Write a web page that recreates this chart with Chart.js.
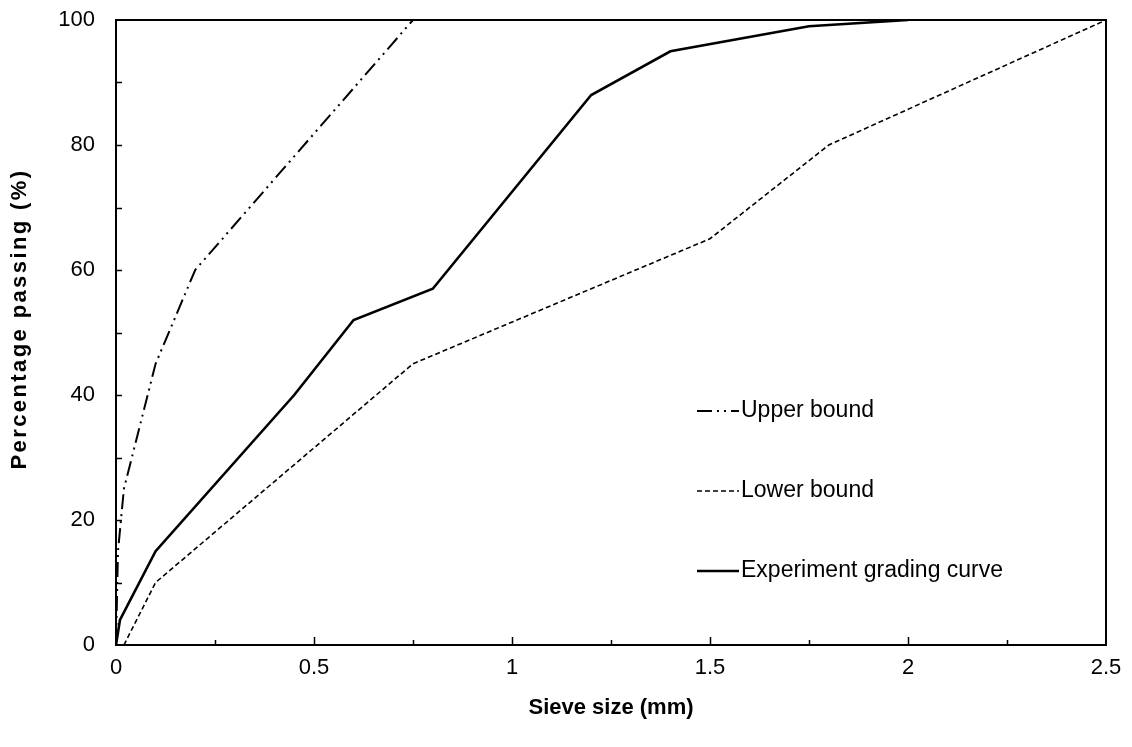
<!DOCTYPE html>
<html>
<head>
<meta charset="utf-8">
<script src="https://cdn.jsdelivr.net/npm/chart.js@4/dist/chart.umd.min.js"></script>
<style>
  html, body { margin: 0; padding: 0; background: #fff; }
  #wrap { width: 1132px; height: 747px; }
</style>
</head>
<body>
<div id="wrap"><canvas id="myChart"></canvas></div>
<script>
// sieve sizes (mm) and percentage passing
var upperX = [0, 0.005, 0.02, 0.1, 0.2, 0.75];
var upperY = [0, 15, 25, 45, 60, 100];

var lowerX = [0.02, 0.1, 0.75, 1.5, 1.8, 2.5];
var lowerY = [0, 10, 45, 65, 80, 100];

var expX = [0, 0.01, 0.1, 0.45, 0.6, 0.8, 1.2, 1.4, 1.75, 2];
var expY = [0, 4, 15, 40, 52, 57, 88, 95, 99, 100];

var seriesNames = ['Upper bound', 'Lower bound', 'Experiment grading curve'];

var xTicks = [0, 0.5, 1, 1.5, 2, 2.5];
var yTicks = [0, 20, 40, 60, 80, 100];

var yTitle = 'Percentage passing (%)';

function toPoints(xs, ys){
    var pts = [];
    for (var i = 0; i < xs.length; i++) {
        pts.push({x: xs[i], y: ys[i]});
    }
    return pts;
}

var FONT = '"Liberation Sans", Arial, sans-serif';

// frame, inward ticks, y title and the inline legend
var framePlugin = {
    id: 'frame',
    afterDraw: function(chart){
        var c = chart.ctx;
        var a = chart.chartArea;
        var xs = chart.scales.x, ys = chart.scales.y;
        c.save();
        c.strokeStyle = '#000';
        c.lineWidth = 2;
        c.setLineDash([]);
        c.strokeRect(a.left, a.top, a.right - a.left, a.bottom - a.top);

        c.lineWidth = 1.5;
        for (var v = 0.25; v < 2.5; v += 0.25) {
            var px = Math.round(xs.getPixelForValue(v)) + 0.5;
            var major = Math.abs(v * 2 - Math.round(v * 2)) < 1e-6;
            c.beginPath();
            c.moveTo(px, a.bottom);
            c.lineTo(px, a.bottom - (major ? 8 : 5));
            c.stroke();
        }
        for (var w = 10; w < 100; w += 10) {
            var py = Math.round(ys.getPixelForValue(w)) + 0.5;
            c.beginPath();
            c.moveTo(a.left, py);
            c.lineTo(a.left + 6, py);
            c.stroke();
        }

        // y title, spaced out like the original
        c.save();
        c.translate(20, 319);
        c.rotate(-Math.PI / 2);
        c.font = 'bold 22px ' + FONT;
        c.letterSpacing = '2.4px';
        c.fillStyle = '#000';
        c.textAlign = 'center';
        c.textBaseline = 'middle';
        c.fillText(yTitle, 0, 0);
        c.restore();

        // legend
        var lx = 697, ly = [411, 491, 571];
        c.font = '23px ' + FONT;
        c.fillStyle = '#000';
        c.textBaseline = 'middle';
        c.textAlign = 'left';
        chart.data.datasets.forEach(function(ds, i){
            c.lineWidth = ds.borderWidth;
            c.setLineDash(ds.borderDash || []);
            c.beginPath();
            c.moveTo(lx, ly[i]);
            c.lineTo(lx + 42, ly[i]);
            c.stroke();
            c.setLineDash([]);
            c.fillText(ds.label, lx + 44, ly[i]);
        });
        c.restore();
    }
};

var ctx = document.getElementById('myChart').getContext('2d');

var myChart = new Chart(ctx, {
    type: 'scatter',
    data: {
        datasets: [{
            label: seriesNames[0],
            data: toPoints(upperX, upperY),
            showLine: true,
            borderColor: '#000',
            borderWidth: 2,
            borderDash: [15, 5, 2, 5, 2, 5],
            pointRadius: 0,
            tension: 0
        }, {
            label: seriesNames[1],
            data: toPoints(lowerX, lowerY),
            showLine: true,
            borderColor: '#000',
            borderWidth: 1.6,
            borderDash: [5, 3],
            pointRadius: 0,
            tension: 0
        }, {
            label: seriesNames[2],
            data: toPoints(expX, expY),
            showLine: true,
            borderColor: '#000',
            borderWidth: 2.6,
            pointRadius: 0,
            tension: 0
        }]
    },
    options: {
        responsive: true,
        maintainAspectRatio: false,
        animation: false,
        layout: { padding: { left: 0, right: 26, top: 20, bottom: 0 } },
        plugins: {
            legend: { display: false },
            tooltip: { enabled: false }
        },
        scales: {
            x: {
                type: 'linear',
                min: 0,
                max: 2.5,
                afterFit: function(s){
                    s.height = 102;
                    s.paddingLeft = 0;
                    s.paddingRight = 0;
                },
                afterBuildTicks: function(s){
                    s.ticks = xTicks.map(function(v){ return {value: v}; });
                },
                grid: { display: false, drawTicks: false },
                border: { display: false },
                ticks: {
                    padding: 10,
                    color: '#000',
                    font: { family: FONT, size: 22 },
                    callback: function(v){ return String(v); }
                },
                title: {
                    display: true,
                    text: 'Sieve size (mm)',
                    color: '#000',
                    font: { family: FONT, size: 22, weight: 'bold' },
                    padding: { top: 0, bottom: 26 }
                }
            },
            y: {
                min: 0,
                max: 100,
                afterFit: function(s){
                    s.width = 116;
                    s.paddingTop = 0;
                    s.paddingBottom = 0;
                },
                afterBuildTicks: function(s){
                    s.ticks = yTicks.map(function(v){ return {value: v}; });
                },
                grid: { display: false, drawTicks: false },
                border: { display: false },
                ticks: {
                    padding: 21,
                    color: '#000',
                    font: { family: FONT, size: 22 },
                    callback: function(v){ return String(v); }
                },
                title: { display: false }
            }
        }
    },
    plugins: [framePlugin]
});
</script>
</body>
</html>
